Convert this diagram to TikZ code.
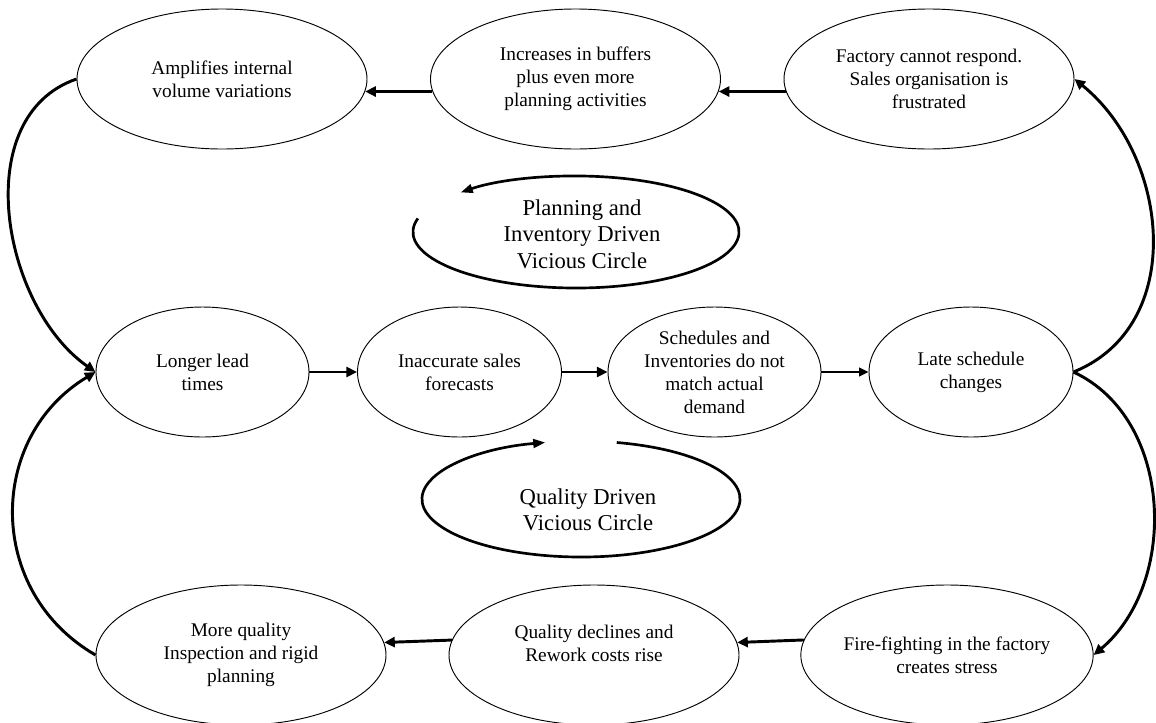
\documentclass[tikz,border=0pt]{standalone}
\usepackage{fontspec}
\setmainfont{Liberation Serif}
\usepackage{tikz}
\usetikzlibrary{shapes.geometric,arrows.meta}
\tikzset{
  oval/.style={draw, ellipse, line width=0.7pt, inner sep=0pt, align=center,
    font=\fontsize{14.5}{17.25}\selectfont},
  bigoval/.style={oval, minimum width=217.5pt, minimum height=105pt},
  midoval/.style={oval, minimum height=97.5pt},
  arr/.style={line width=2.2pt, -{Triangle[length=8pt,width=7.5pt]}},
  thinarr/.style={line width=1.4pt, -{Triangle[length=7pt,width=6.5pt]}},
  cyc/.style={line width=2pt, -{Triangle[length=9pt,width=6.5pt]}},
  looptext/.style={align=center, font=\fontsize{17}{19.8}\selectfont},
}
\begin{document}
\begin{tikzpicture}[x=0.75pt,y=0.75pt]
  \useasboundingbox (0,0) rectangle (1156,-722);
  % top row
  \node[bigoval] (amp) at (222,-79) {Amplifies internal\\volume variations};
  \node[bigoval] (inc) at (575.5,-79) {Increases in buffers\\plus even more\\planning activities};
  \node[bigoval] (fac) at (929,-79) {Factory cannot respond.\\Sales organisation is\\frustrated};
  % middle row
  \node[midoval, minimum width=159.75pt] (lead) at (202.5,-372) {Longer lead\\times};
  \node[midoval, minimum width=153pt] (fore) at (459.5,-372) {Inaccurate sales\\forecasts};
  \node[midoval, minimum width=159.75pt] (sched) at (714.5,-372) {Schedules and\\Inventories do not\\match actual\\demand};
  \node[midoval, minimum width=153pt] (late) at (971,-372) {Late schedule\\changes};
  % bottom row
  \node[bigoval] (more) at (241,-655) {More quality\\Inspection and rigid\\planning};
  \node[bigoval] (qdec) at (594,-655) {Quality declines and\\Rework costs rise\\\mbox{}};
  \node[bigoval] (fire) at (947,-655) {Fire-fighting in the factory\\creates stress};
  % the two circles
  \node[looptext] (plan) at (582,-234) {Planning and\\Inventory Driven\\Vicious Circle};
  \node[looptext] (qual) at (588,-510) {Quality Driven\\Vicious Circle};
  \draw[cyc] (576,-232) ++(166:163 and 56) arc[start angle=166, end angle=495, x radius=163, y radius=56];
  \draw[cyc] (581,-499) ++(77:159 and 58) arc[start angle=77, end angle=-257, x radius=159, y radius=58];
  % straight links
  \draw[arr] (fac.185.6) -- (inc.-5.6);
  \draw[arr] (inc.185.6) -- (amp.-5.6);
  \draw[arr] (lead) -- (fore);
  \draw[arr] (fore) -- (sched);
  \draw[thinarr] (sched) -- (late);
  \draw[arr] (fire.174.8) -- (qdec.5.2);
  \draw[arr] (qdec.174.8) -- (more.5.2);
  % side curves
  \draw[arr] (amp.west) to[out=199, in=145, looseness=1] (lead.west);
  \draw[arr] (more.west) to[out=150, in=211, looseness=1.15] (lead.west);
  \draw[arr] (late.east) to[out=22, in=-39, looseness=1.07] (fac.east);
  \draw[arr] (late.east) to[out=-25, in=40, looseness=1] (fire.east);
\end{tikzpicture}
\end{document}
